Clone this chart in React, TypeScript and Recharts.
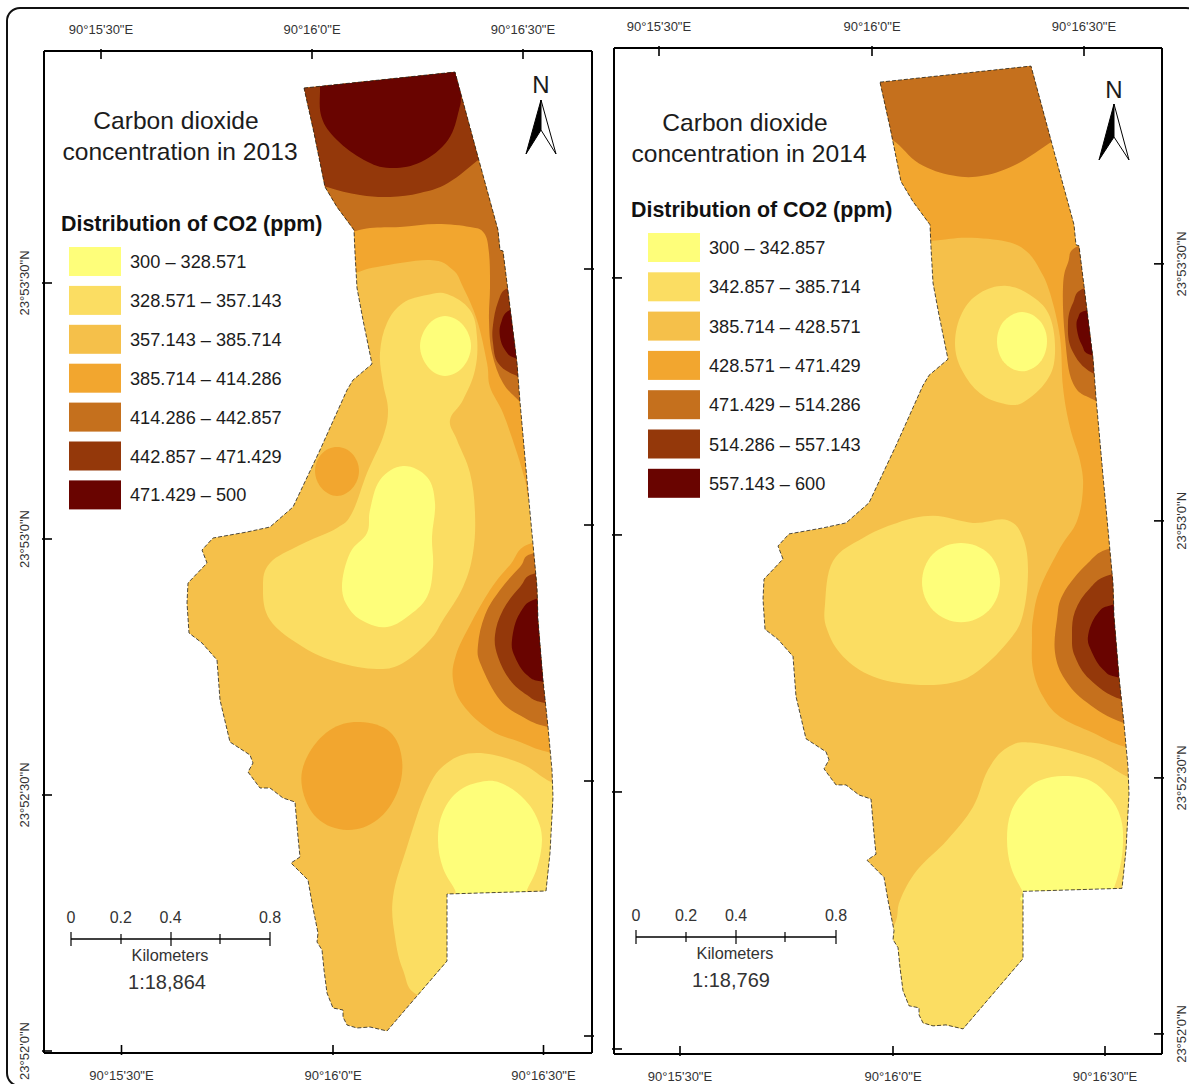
import { ScatterChart, Scatter, XAxis, YAxis } from 'recharts';

type Ring = number[][];

// local grid in metres (easting, northing); the scale bar gives 4 m per pixel
const BOUNDARY: Ring = [
  [1216,3984],[1820,4048],[1912,3708],[1992,3416],[2000,3336],[2012,3332],[2068,2884],[2080,2728],[2108,2416],
  [2148,1988],[2152,1856],[2172,1616],[2192,1428],[2208,1256],[2212,1148],[2200,924],[2184,772],[1788,760],
  [1788,492],[1548,212],[1480,228],[1428,224],[1388,236],[1372,268],[1372,296],[1332,304],[1308,364],[1296,456],
  [1288,536],[1268,568],[1272,604],[1248,724],[1232,816],[1164,884],[1200,908],[1192,988],[1180,1128],[1132,1144],
  [1080,1184],[1040,1184],[992,1248],[1012,1284],[1000,1316],[920,1368],[880,1536],[868,1696],[808,1764],[756,1804],
  [748,1924],[752,2004],[828,2084],[808,2136],[852,2184],[988,2208],[1080,2228],[1172,2308],[1280,2536],[1388,2776],
  [1412,2816],[1488,2880],[1452,3056],[1428,3184],[1420,3324],[1416,3416],[1348,3508],[1300,3588],[1256,3804],
];

const BAND_COLORS = ['#FEFE7A', '#FBDD62', '#F5C04A', '#F2A62F', '#C5701D', '#94380A', '#690400'];

// 2013 contours
const N_B4_13: Ring = [[1080,4136],[2080,4136],[2400,3136],[2240,2256],[2128,2316],[2100,2416],[2068,2524],[2012,2684],[1960,2788],[1948,2884],[1908,3056],[1852,3188],[1812,3256],[1720,3296],[1508,3268],[1420,3244],[1320,3216],[1160,3296]];
const SE_B4_13: Ring = [[2128,2164],[2040,2076],[1960,1976],[1880,1836],[1824,1716],[1812,1616],[1852,1516],[1960,1416],[2080,1368],[2192,1328],[2400,1296],[2400,2176]];
const SE_B5_13: Ring = [[2140,2124],[2080,2068],[2000,1976],[1940,1876],[1912,1756],[1924,1676],[2000,1536],[2092,1468],[2192,1428],[2400,1396],[2400,2136]];
const SE_B6_13: Ring = [[2148,2044],[2080,1988],[2012,1896],[1980,1796],[1992,1708],[2040,1616],[2108,1556],[2180,1524],[2400,1496],[2400,2056]];
const SE_B7_13: Ring = [[2160,1944],[2080,1884],[2048,1776],[2060,1708],[2108,1636],[2180,1608],[2400,1596],[2400,1956]];
const N_B5_13: Ring = [[1120,4096],[1920,4096],[2240,3136],[2180,2616],[2080,2728],[2012,2804],[1968,2924],[1956,3056],[1960,3188],[1956,3324],[1936,3404],[1880,3428],[1748,3440],[1600,3428],[1480,3424],[1380,3404],[1160,3376]];
const N_B6_13: Ring = [[1160,4096],[2000,4096],[2040,3796],[1928,3708],[1792,3604],[1680,3564],[1560,3548],[1440,3556],[1308,3588],[1200,3636]];
const N_B7_13: Ring = [[1280,4136],[1840,4136],[1844,3964],[1836,3896],[1792,3776],[1684,3688],[1560,3664],[1456,3696],[1348,3776],[1286,3868],[1280,3992]];
const E_B6_13: Ring = [[2032,3184],[1992,3128],[1972,3036],[1972,2964],[1992,2884],[2060,2836],[2160,2816],[2160,3196]];
const E_B7_13: Ring = [[2040,3096],[2004,3044],[2000,2988],[2020,2936],[2060,2904],[2160,2896],[2160,3116]];
const MID_B2_13: Ring = [[1708,3156],[1788,3160],[1880,3096],[1908,2988],[1900,2856],[1852,2736],[1800,2656],[1828,2576],[1880,2444],[1900,2284],[1892,2124],[1852,1988],[1772,1856],[1720,1776],[1612,1684],[1508,1660],[1348,1688],[1212,1748],[1080,1856],[1052,1988],[1080,2084],[1200,2156],[1348,2224],[1408,2284],[1468,2444],[1532,2588],[1552,2696],[1532,2804],[1520,2924],[1548,3044],[1612,3124]];
const N_B1_13: Ring = [[1780,3072],[1852,3036],[1884,2952],[1852,2868],[1780,2832],[1712,2868],[1680,2952],[1712,3036]];
const MID_B1_13: Ring = [[1612,2472],[1708,2428],[1740,2324],[1728,2188],[1732,2068],[1708,1948],[1628,1868],[1548,1828],[1468,1844],[1400,1896],[1368,1988],[1400,2124],[1468,2204],[1480,2296],[1520,2416]];
const W_B4_13: Ring = [[1348,2548],[1410,2520],[1436,2452],[1410,2384],[1348,2352],[1286,2384],[1260,2452],[1286,2520]];
const S_B4_13: Ring = [[1440,1448],[1560,1408],[1608,1296],[1588,1164],[1508,1056],[1388,1016],[1268,1064],[1208,1188],[1228,1308],[1320,1416]];
const SE_B2_13: Ring = [[2400,1136],[2212,1204],[2080,1284],[1908,1324],[1788,1284],[1708,1176],[1628,948],[1572,748],[1580,588],[1612,456],[1672,356],[1880,336],[2000,736],[2400,736]];
const SE_B1_13: Ring = [[1948,1212],[2028,1192],[2100,1136],[2148,1064],[2168,976],[2148,864],[2108,776],[2088,716],[1840,716],[1820,776],[1772,864],[1752,976],[1772,1088],[1840,1176]];

// 2014 contours
const ALL_B4_14: Ring = [[1200,3336],[1428,3352],[1564,3364],[1724,3348],[1804,3308],[1856,3236],[1896,3144],[1936,2968],[1948,2768],[1976,2608],[2016,2476],[2028,2368],[2004,2236],[1936,2128],[1856,1968],[1828,1848],[1824,1764],[1828,1644],[1868,1536],[1936,1456],[2068,1392],[2196,1336],[2400,1296],[2480,2736],[2160,4176],[1120,4176]];
const N_B5_14: Ring = [[1264,3754],[1372,3660],[1508,3612],[1632,3612],[1768,3660],[1912,3752],[2080,3856],[2080,4176],[1120,4176],[1120,3816]];
const E_B5_14: Ring = [[2012,3332],[1968,3264],[1948,3168],[1956,2968],[1988,2784],[2076,2716],[2240,2656],[2240,3376]];
const E_B6_14: Ring = [[2036,3164],[1988,3104],[1968,3024],[1984,2916],[2068,2824],[2240,2776],[2240,3196]];
const E_B7_14: Ring = [[2048,3076],[2008,3044],[2004,2996],[2024,2936],[2064,2896],[2240,2876],[2240,3096]];
const SE_B5_14: Ring = [[2144,2128],[2044,2064],[1948,1944],[1924,1844],[1916,1712],[1956,1604],[2044,1512],[2188,1432],[2400,1396],[2400,2156]];
const SE_B6_14: Ring = [[2148,2024],[2056,1968],[1996,1876],[1984,1776],[1996,1696],[2056,1604],[2184,1524],[2400,1496],[2400,2056]];
const SE_B7_14: Ring = [[2156,1904],[2084,1864],[2048,1776],[2064,1712],[2108,1644],[2176,1612],[2400,1596],[2400,1936]];
const N_B2_14: Ring = [[1724,3172],[1828,3128],[1896,3048],[1916,2904],[1884,2796],[1788,2708],[1708,2704],[1616,2744],[1544,2836],[1516,2944],[1544,3064],[1616,3144]];
const N_B1_14: Ring = [[1784,3068],[1856,3032],[1884,2952],[1856,2868],[1784,2832],[1712,2868],[1684,2952],[1712,3032]];
const MID_B2_14: Ring = [[1428,2256],[1588,2228],[1724,2240],[1788,2168],[1808,2036],[1788,1864],[1736,1764],[1616,1644],[1508,1592],[1348,1584],[1188,1616],[1068,1696],[1004,1804],[996,1904],[1028,2076],[1148,2168],[1284,2228]];
const MID_B1_14: Ring = [[1540,2148],[1652,2104],[1696,1992],[1652,1880],[1540,1832],[1428,1880],[1384,1992],[1428,2104]];
const SE_B2_14: Ring = [[2400,1136],[2208,1216],[2056,1296],[1828,1352],[1724,1332],[1648,1244],[1588,1096],[1484,964],[1364,844],[1296,724],[1276,632],[1200,496],[1280,96],[1800,96],[2400,736]];
const SE_B1_14: Ring = [[1956,1220],[2060,1200],[2140,1128],[2180,1048],[2188,956],[2176,856],[2148,764],[2120,716],[1808,716],[1784,764],[1740,856],[1724,968],[1740,1076],[1792,1156],[1860,1204]];

// [band number 1-7, ring], painted in this order
const LAYERS_2013: [number, Ring][] = [
  [4, N_B4_13], [4, SE_B4_13], [4, W_B4_13], [4, S_B4_13],
  [5, N_B5_13], [5, SE_B5_13], [6, N_B6_13], [6, E_B6_13], [6, SE_B6_13],
  [7, N_B7_13], [7, E_B7_13], [7, SE_B7_13],
  [2, MID_B2_13], [1, N_B1_13], [1, MID_B1_13], [2, SE_B2_13], [1, SE_B1_13],
];
const LAYERS_2014: [number, Ring][] = [
  [4, ALL_B4_14], [5, N_B5_14], [5, E_B5_14], [5, SE_B5_14],
  [6, E_B6_14], [6, SE_B6_14], [7, E_B7_14], [7, SE_B7_14],
  [2, N_B2_14], [1, N_B1_14], [2, MID_B2_14], [1, MID_B1_14], [2, SE_B2_14], [1, SE_B1_14],
];

const LEGEND_2013 = ['300 – 328.571', '328.571 – 357.143', '357.143 – 385.714', '385.714 – 414.286', '414.286 – 442.857', '442.857 – 471.429', '471.429 – 500'];
const LEGEND_2014 = ['300 – 342.857', '342.857 – 385.714', '385.714 – 428.571', '428.571 – 471.429', '471.429 – 514.286', '514.286 – 557.143', '557.143 – 600'];

const LON_LABELS = ['90°15\'30"E', '90°16\'0"E', '90°16\'30"E'];
const LAT_LABELS = ['23°53\'30"N', '23°53\'0"N', '23°52\'30"N', '23°52\'0"N'];
const LAT_TICKS_W = [3204, 2180, 1156, 132];
const LAT_TICKS_E = [3260, 2236, 1212, 192];
const LON_BOTTOM_13 = [486, 1332, 2174];
const LON_TOP_13 = [404, 1248, 2092];
const LON_BOTTOM_14 = [416, 1268, 2116];
const LON_TOP_14 = [332, 1184, 2032];
const SCALE_LABELS = ['0', '0.2', '0.4', '0.8'];

const FONT = '"Liberation Sans", Arial, sans-serif';
const INK = '#1c1c1c';

// closed catmull-rom through the contour points
function smoothClosed(pts: { x: number; y: number }[]) {
  const n = pts.length;
  const k = 5.5;
  let d = `M${pts[0].x},${pts[0].y}`;
  for (let i = 0; i < n; i++) {
    const p0 = pts[(i - 1 + n) % n], p1 = pts[i], p2 = pts[(i + 1) % n], p3 = pts[(i + 2) % n];
    d += `C${p1.x + (p2.x - p0.x) / k},${p1.y + (p2.y - p0.y) / k} ${p2.x - (p3.x - p1.x) / k},${p2.y - (p3.y - p1.y) / k} ${p2.x},${p2.y}`;
  }
  return d + 'Z';
}
const straightClosed = (pts: { x: number; y: number }[]) => 'M' + pts.map((p) => `${p.x},${p.y}`).join('L') + 'Z';
const toRows = (ring: Ring) => ring.map(([x, y]) => ({ x, y }));
const noDot = () => <g />;

function lonTick(labels: string[], ticks: number[], dir: number) {
  return ({ x, y, payload }: any) => (
    <g>
      <line x1={x} x2={x} y1={y} y2={y - dir * 10} stroke="#000" strokeWidth={1.6} />
      <text x={x} y={y + dir * 20} textAnchor="middle" dominantBaseline="central" fontSize={13} fontFamily={FONT} fill="#333">
        {labels[ticks.indexOf(payload.value)]}
      </text>
    </g>
  );
}
function latTick(labels: string[] | null, ticks: number[], dir: number) {
  return ({ x, y, payload }: any) => (
    <g>
      <line x1={x} x2={x - dir * 10} y1={y} y2={y} stroke="#000" strokeWidth={1.6} />
      {labels && (
        <text x={x + dir * 18} y={y} transform={`rotate(-90 ${x + dir * 18} ${y})`} textAnchor="middle" dominantBaseline="central" fontSize={13} fontFamily={FONT} fill="#333">
          {labels[ticks.indexOf(payload.value)]}
        </text>
      )}
    </g>
  );
}

interface MapProps {
  id: string;
  left: number;
  margins: number[];
  xDomain: number[];
  yDomain: number[];
  lonBottom: number[];
  lonTop: number[];
  layers: [number, Ring][];
  westLabels: boolean;
}

function MapPanel({ id, left, margins, xDomain, yDomain, lonBottom, lonTop, layers, westLabels }: MapProps) {
  const [top, right, bottom, leftW] = margins;
  const clip = `url(#${id})`;
  const axisLine = { stroke: '#000', strokeWidth: 2 };
  return (
    <div style={{ position: 'absolute', left, top: 0 }}>
      <ScatterChart width={600} height={1084} margin={{ top: 0, right: 0, bottom: 0, left: 0 }}>
        <XAxis xAxisId="b" orientation="bottom" type="number" dataKey="x" height={bottom} domain={xDomain} allowDataOverflow ticks={lonBottom} interval={0} tickSize={0} tickLine={false} axisLine={axisLine} tick={lonTick(LON_LABELS, lonBottom, 1)} />
        <XAxis xAxisId="t" orientation="top" type="number" dataKey="x" height={top} domain={xDomain} allowDataOverflow ticks={lonTop} interval={0} tickSize={0} tickLine={false} axisLine={axisLine} tick={lonTick(LON_LABELS, lonTop, -1)} />
        <YAxis yAxisId="l" orientation="left" type="number" dataKey="y" width={leftW} domain={yDomain} allowDataOverflow ticks={LAT_TICKS_W} interval={0} tickSize={0} tickLine={false} axisLine={axisLine} tick={latTick(westLabels ? LAT_LABELS : null, LAT_TICKS_W, -1)} />
        <YAxis yAxisId="r" orientation="right" type="number" dataKey="y" width={right} domain={yDomain} allowDataOverflow ticks={LAT_TICKS_E} interval={0} tickSize={0} tickLine={false} axisLine={axisLine} tick={latTick(westLabels ? null : LAT_LABELS, LAT_TICKS_E, 1)} />
        <Scatter
          xAxisId="b" yAxisId="l" data={toRows(BOUNDARY)} isAnimationActive={false} shape={noDot}
          line={(p: any) => (
            <g>
              <clipPath id={id}><path d={straightClosed(p.points)} /></clipPath>
              <path d={straightClosed(p.points)} fill={BAND_COLORS[2]} />
            </g>
          )}
        />
        {layers.map(([band, ring], i) => (
          <Scatter
            key={i} xAxisId="b" yAxisId="l" data={toRows(ring)} isAnimationActive={false} shape={noDot}
            line={(p: any) => <path d={smoothClosed(p.points)} fill={BAND_COLORS[band - 1]} clipPath={clip} />}
          />
        ))}
        <Scatter
          xAxisId="b" yAxisId="l" data={toRows(BOUNDARY)} isAnimationActive={false} shape={noDot}
          line={(p: any) => <path d={straightClosed(p.points)} fill="none" stroke="#222" strokeWidth={0.8} strokeDasharray="4 2" />}
        />
      </ScatterChart>
    </div>
  );
}

function Furniture({ title, tx, ty, hx, hy, swX, swY, pitch, labels, arrow, nY, scaleX, scaleY, ratio, ratioX }: any) {
  const base = { fontFamily: FONT, fill: INK, dominantBaseline: 'central' as const };
  const [ax, ay, by, ny] = arrow;
  const step = (scaleX[4] - scaleX[0]) / 4;
  return (
    <g>
      <text {...base} x={tx[0]} y={ty} fontSize={24.6} textAnchor="middle">Carbon dioxide</text>
      <text {...base} x={tx[1]} y={ty + 31} fontSize={24.6} textAnchor="middle">{title}</text>
      <text {...base} x={hx} y={hy} fontSize={21.4} fontWeight={700} fill="#111">Distribution of CO2 (ppm)</text>
      {labels.map((label: string, i: number) => (
        <g key={label}>
          <rect x={swX} y={swY + i * pitch} width={52} height={29} fill={BAND_COLORS[i]} />
          <text {...base} x={swX + 61} y={swY + 15 + i * pitch} fontSize={18.2}>{label}</text>
        </g>
      ))}
      <text {...base} x={ax} y={nY} fontSize={24} textAnchor="middle">N</text>
      <path d={`M${ax},${ay}L${ax - 15},${by}L${ax},${ny}Z`} fill="#000" stroke="#000" strokeWidth={1} />
      <path d={`M${ax},${ay}L${ax + 15},${by}L${ax},${ny}Z`} fill="#fff" stroke="#000" strokeWidth={1} />
      <line x1={scaleX[0]} x2={scaleX[4]} y1={scaleY} y2={scaleY} stroke="#000" strokeWidth={1.4} />
      {scaleX.map((x: number, i: number) => (
        <line key={i} x1={x} x2={x} y1={scaleY - (i % 2 ? 5 : 7)} y2={scaleY + (i % 2 ? 5 : 7)} stroke="#000" strokeWidth={1.2} />
      ))}
      {SCALE_LABELS.map((s, i) => (
        <text key={s} {...base} x={scaleX[0] + [0, 1, 2, 4][i] * step} y={scaleY - 22} fontSize={16} textAnchor="middle" fill="#333">{s}</text>
      ))}
      <text {...base} x={scaleX[2] - 1} y={scaleY + 16} fontSize={16.3} textAnchor="middle" fill="#333">Kilometers</text>
      <text {...base} x={ratioX} y={scaleY + 43} fontSize={20} textAnchor="middle" fill="#333">{ratio}</text>
    </g>
  );
}

export default function App() {
  return (
    <div style={{ position: 'absolute', left: 0, top: 0, width: 1189, height: 1084, overflow: 'hidden', background: '#fff' }}>
      <div style={{ position: 'absolute', left: 6, top: 7, width: 1190, height: 1076, border: '2px solid #111', borderRadius: 14 }} />
      <MapPanel
        id="clip13" left={0} margins={[51, 8, 31, 44]} xDomain={[176, 2368]} yDomain={[124, 4132]}
        lonBottom={LON_BOTTOM_13} lonTop={LON_TOP_13} layers={LAYERS_2013} westLabels
      />
      <MapPanel
        id="clip14" left={600} margins={[48, 38, 30, 14]} xDomain={[152, 2344]} yDomain={[112, 4120]}
        lonBottom={LON_BOTTOM_14} lonTop={LON_TOP_14} layers={LAYERS_2014} westLabels={false}
      />
      <svg width={1189} height={1084} style={{ position: 'absolute', left: 0, top: 0 }}>
        <Furniture
          title="concentration in 2013" tx={[176, 180]} ty={120} hx={61} hy={224} swX={69} swY={247} pitch={38.9} labels={LEGEND_2013}
          arrow={[541, 100, 154, 130]} nY={84} scaleX={[71, 121, 171, 220, 270]} scaleY={939} ratio="1:18,864" ratioX={167}
        />
        <Furniture
          title="concentration in 2014" tx={[745, 749]} ty={122} hx={631} hy={210} swX={648} swY={233} pitch={39.3} labels={LEGEND_2014}
          arrow={[1114, 104, 160, 137]} nY={89} scaleX={[636, 686, 736, 785, 836]} scaleY={937} ratio="1:18,769" ratioX={731}
        />
      </svg>
    </div>
  );
}
